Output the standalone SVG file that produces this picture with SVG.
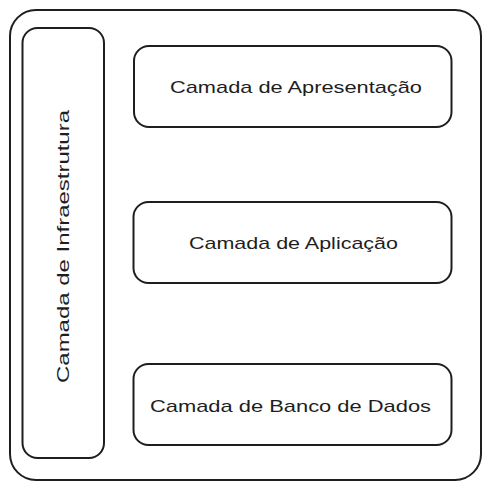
<svg xmlns="http://www.w3.org/2000/svg" width="491" height="490" viewBox="0 0 491 490">
<style>
.box{fill:#ffffff;stroke:#1e1e1e;stroke-width:2;stroke-linejoin:round}
.lbl{font-family:"Liberation Sans","DejaVu Sans",sans-serif;font-size:17px;fill:#1e1e1e;text-anchor:middle}
</style>
<rect width="491" height="490" fill="#ffffff"/>
<g id="container">
<rect class="box" x="10" y="10" width="471" height="470" rx="26"/>
</g>
<g id="infra">
<rect class="box" x="22.5" y="28" width="81.5" height="430" rx="15"/>
<text class="lbl" transform="translate(69 246.5) rotate(-90)" textLength="273" lengthAdjust="spacingAndGlyphs">Camada de Infraestrutura</text>
</g>
<g id="apresentacao">
<rect class="box" x="134" y="46" width="317.5" height="81" rx="15"/>
<text class="lbl" x="296" y="93" textLength="252" lengthAdjust="spacingAndGlyphs">Camada de Apresentação</text>
</g>
<g id="aplicacao">
<rect class="box" x="133.5" y="202" width="318" height="81" rx="15"/>
<text class="lbl" x="293.5" y="249" textLength="209" lengthAdjust="spacingAndGlyphs">Camada de Aplicação</text>
</g>
<g id="banco">
<rect class="box" x="133.5" y="364" width="318" height="81" rx="15"/>
<text class="lbl" x="290.5" y="412" textLength="281" lengthAdjust="spacingAndGlyphs">Camada de Banco de Dados</text>
</g>
<g id="connectors"></g>
</svg>
